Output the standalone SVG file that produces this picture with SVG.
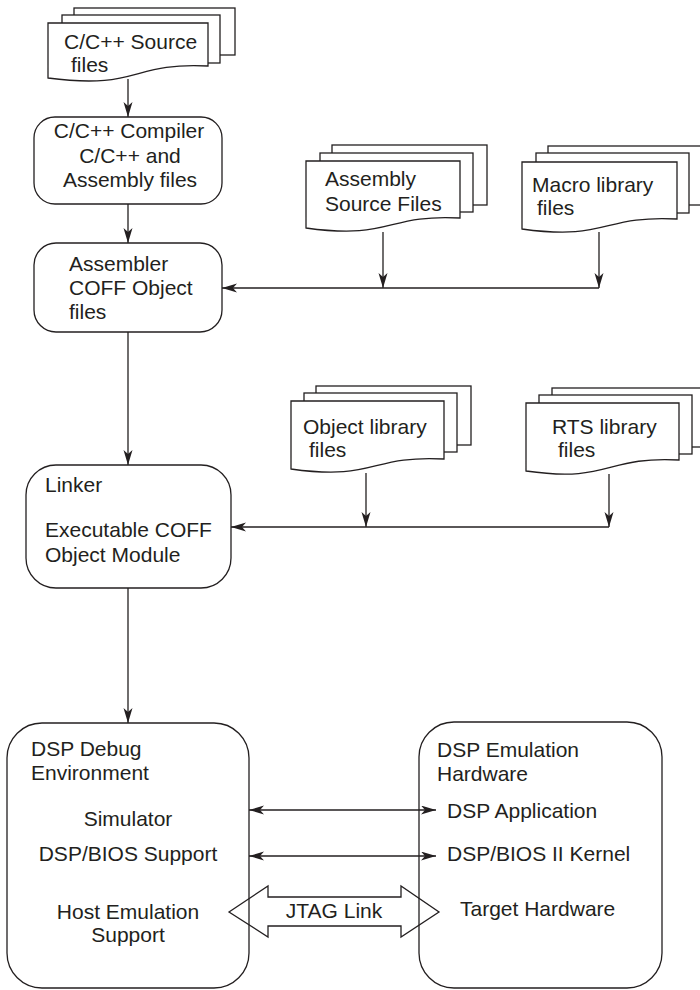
<svg xmlns="http://www.w3.org/2000/svg" width="700" height="990" viewBox="0 0 700 990">
<style>
.ln{fill:none;stroke:#231f20;stroke-width:1.3}
.sh{fill:#fff;stroke:#231f20;stroke-width:1.3}
.bx{fill:none;stroke:#231f20;stroke-width:1.3}
text{font-family:"Liberation Sans",Arial,sans-serif;font-size:21px;fill:#231f20}
.c{text-anchor:middle}
</style>
<defs>
<marker id="ah" markerUnits="userSpaceOnUse" markerWidth="16" markerHeight="10" refX="15" refY="4.5" orient="auto">
<path d="M0,0 L15,4.5 L0,9 L4,4.5 z" fill="#231f20"/>
</marker>
<marker id="ahs" markerUnits="userSpaceOnUse" markerWidth="16" markerHeight="10" refX="15" refY="4.5" orient="auto-start-reverse">
<path d="M0,0 L15,4.5 L0,9 L4,4.5 z" fill="#231f20"/>
</marker>
</defs>

<g id="src">
<rect class="sh" x="74" y="8" width="161" height="47"/>
<rect class="sh" x="62" y="15" width="158" height="48"/>
<path class="sh" d="M48,23 H208 V66 C130,62 140,90 48,78 Z"/>
<text x="64" y="49">C/C++ Source</text>
<text x="71" y="72">files</text>
</g>

<g id="compiler">
<rect class="bx" x="34" y="117" width="188" height="87" rx="21" ry="21"/>
<text class="c" x="129" y="138">C/C++ Compiler</text>
<text class="c" x="130" y="163">C/C++ and</text>
<text class="c" x="130" y="187">Assembly files</text>
</g>

<g id="asmsrc">
<rect class="sh" x="332" y="145" width="155" height="60"/>
<rect class="sh" x="320" y="153" width="153" height="59"/>
<path class="sh" d="M306,161 H460 V218 C385,214 392,240 306,228 Z"/>
<text x="325" y="186">Assembly</text>
<text x="325" y="211">Source Files</text>
</g>

<g id="macro">
<rect class="sh" x="548" y="146" width="172" height="59"/>
<rect class="sh" x="536" y="153" width="153" height="60"/>
<path class="sh" d="M522,162 H677 V219 C601,215 608,241 522,229 Z"/>
<text x="532" y="192">Macro library</text>
<text x="537" y="215">files</text>
</g>

<g id="assembler">
<rect class="bx" x="34" y="243" width="188" height="89" rx="22" ry="22"/>
<text x="69" y="271">Assembler</text>
<text x="69" y="295">COFF Object</text>
<text x="69" y="319">files</text>
</g>

<g id="objlib">
<rect class="sh" x="316" y="386" width="155" height="59"/>
<rect class="sh" x="304" y="393" width="153" height="59"/>
<path class="sh" d="M291,401 H444 V459 C369,455 376,481 291,469 Z"/>
<text x="303" y="434">Object library</text>
<text x="309" y="457">files</text>
</g>

<g id="rtslib">
<rect class="sh" x="552" y="388" width="168" height="59"/>
<rect class="sh" x="539" y="395" width="153" height="59"/>
<path class="sh" d="M526,403 H679 V460 C604,456 611,483 526,471 Z"/>
<text x="552" y="434">RTS library</text>
<text x="558" y="457">files</text>
</g>

<g id="linker">
<rect class="bx" x="26" y="465" width="205" height="123" rx="30" ry="30"/>
<text x="45" y="492">Linker</text>
<text x="45" y="537">Executable COFF</text>
<text x="45" y="562">Object Module</text>
</g>

<g id="debug">
<rect class="bx" x="7" y="723" width="242" height="265" rx="35" ry="35"/>
<text x="31" y="756">DSP Debug</text>
<text x="31" y="780">Environment</text>
<text class="c" x="128" y="826">Simulator</text>
<text class="c" x="128" y="861">DSP/BIOS Support</text>
<text class="c" x="128" y="919">Host Emulation</text>
<text class="c" x="128" y="942">Support</text>
</g>

<g id="emu">
<rect class="bx" x="419" y="722" width="243" height="266" rx="35" ry="35"/>
<text x="437" y="757">DSP Emulation</text>
<text x="437" y="781">Hardware</text>
<text x="447" y="818">DSP Application</text>
<text x="447" y="861">DSP/BIOS II Kernel</text>
<text x="460" y="916">Target Hardware</text>
</g>

<g id="connectors">
<line class="ln" x1="128" y1="79" x2="128" y2="117" marker-end="url(#ah)"/>
<line class="ln" x1="128" y1="204" x2="128" y2="243" marker-end="url(#ah)"/>
<line class="ln" x1="383" y1="232" x2="383" y2="288" marker-end="url(#ah)"/>
<line class="ln" x1="599" y1="232" x2="599" y2="288" marker-end="url(#ah)"/>
<line class="ln" x1="599" y1="288" x2="222" y2="288" marker-end="url(#ah)"/>
<line class="ln" x1="128" y1="332" x2="128" y2="465" marker-end="url(#ah)"/>
<line class="ln" x1="366" y1="473" x2="366" y2="527" marker-end="url(#ah)"/>
<line class="ln" x1="609" y1="474" x2="609" y2="527" marker-end="url(#ah)"/>
<line class="ln" x1="609" y1="527" x2="231" y2="527" marker-end="url(#ah)"/>
<line class="ln" x1="128" y1="588" x2="128" y2="723" marker-end="url(#ah)"/>
<line class="ln" x1="249" y1="810" x2="436" y2="810" marker-start="url(#ahs)" marker-end="url(#ah)"/>
<line class="ln" x1="249" y1="856" x2="436" y2="856" marker-start="url(#ahs)" marker-end="url(#ah)"/>
<polygon class="ln" points="229,912 268,886 268,897 401,897 401,886 439,912 401,937 401,926 268,926 268,937"/>
<text class="c" x="334" y="918">JTAG Link</text>
</g>
</svg>
